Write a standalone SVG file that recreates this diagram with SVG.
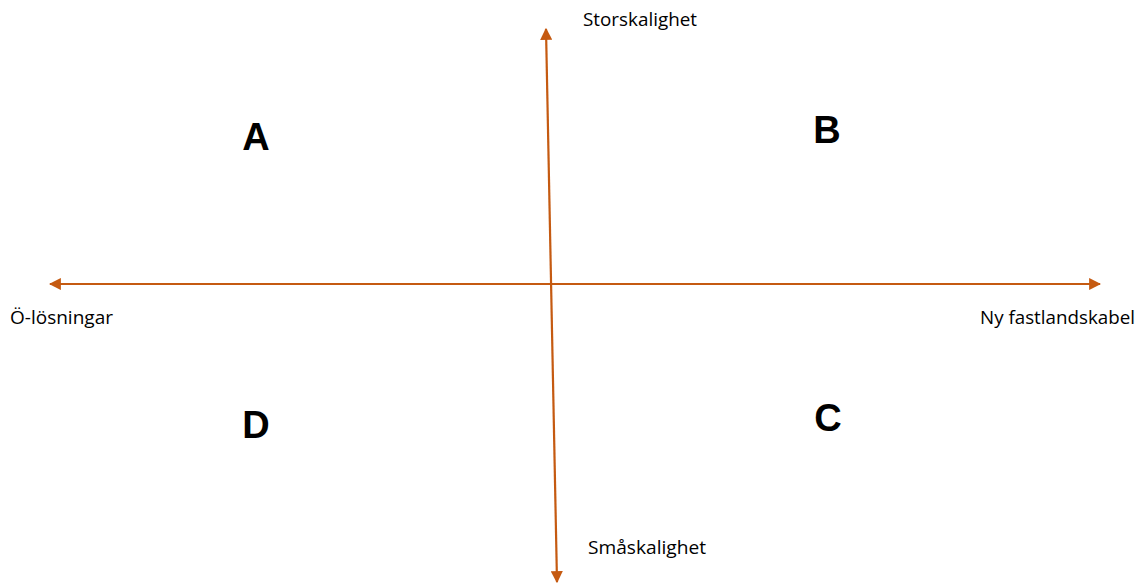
<svg xmlns="http://www.w3.org/2000/svg" width="1140" height="587" viewBox="0 0 1140 587">
<style>
.ax{stroke:#C55A11;stroke-width:2.2;fill:none}
.lbl{font-family:"Open Sans","Liberation Sans",sans-serif;font-size:18px;fill:#000}
.big{font-family:"Liberation Sans",Arial,sans-serif;font-size:38px;font-weight:bold;fill:#000;text-anchor:middle}
</style>
<defs>
<marker id="ah" viewBox="0 0 10 10" refX="9" refY="5" markerWidth="5.5" markerHeight="5.5" orient="auto-start-reverse" markerUnits="strokeWidth">
<path d="M0,0 L10,5 L0,10 z" fill="#C55A11"/>
</marker>
</defs>
<rect width="1140" height="587" fill="#fff"/>
<g id="connectors">
<line class="ax" x1="50" y1="284" x2="1100" y2="284" marker-start="url(#ah)" marker-end="url(#ah)"/>
<line class="ax" x1="557" y1="582" x2="546" y2="29" marker-start="url(#ah)" marker-end="url(#ah)"/>
</g>
<g id="top-label"><text class="lbl" x="583" y="26" textLength="114" lengthAdjust="spacingAndGlyphs">Storskalighet</text></g>
<g id="bottom-label"><text class="lbl" x="588" y="554" textLength="118" lengthAdjust="spacingAndGlyphs">Småskalighet</text></g>
<g id="left-label"><text class="lbl" x="10" y="324" textLength="103" lengthAdjust="spacingAndGlyphs">Ö-lösningar</text></g>
<g id="right-label"><text class="lbl" x="980" y="324" textLength="155" lengthAdjust="spacingAndGlyphs">Ny fastlandskabel</text></g>
<g id="A"><text class="big" x="256" y="150">A</text></g>
<g id="B"><text class="big" x="827" y="143">B</text></g>
<g id="C"><text class="big" x="828" y="431">C</text></g>
<g id="D"><text class="big" x="256" y="438">D</text></g>
</svg>
